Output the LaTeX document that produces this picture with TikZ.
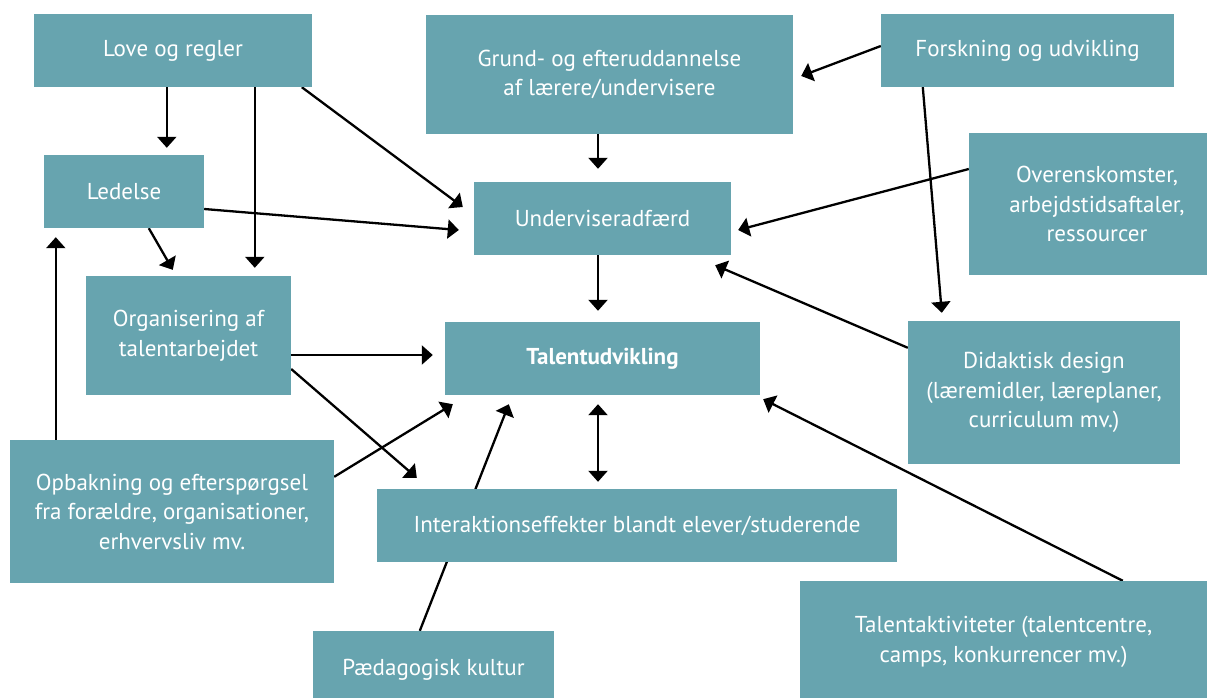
\documentclass[tikz,border=0pt]{standalone}
\usepackage{fontspec}
\setmainfont{PT Sans}
\usetikzlibrary{arrows.meta,calc,backgrounds}
\definecolor{boxfill}{RGB}{103,164,175}
\tikzset{
  box/.style={fill=boxfill, draw=none, text=white, align=center, inner sep=0pt,
    font=\fontsize{23}{29.5}\selectfont},
  arr/.style={line width=2.3pt, -{Triangle[width=19pt,length=11pt]}},
  darr/.style={line width=2.3pt, {Triangle[width=19pt,length=11pt]}-{Triangle[width=19pt,length=11pt]}},
  plain/.style={line width=2.3pt}
}
\begin{document}
\begin{tikzpicture}[x=1pt,y=-1pt]
\useasboundingbox (0,0) rectangle (1207,698);
\clip (0,0) rectangle (1207,698);
\node[box, minimum width=278pt, minimum height=73pt] (love) at (173,50.5) {Love og regler};
\node[box, minimum width=160pt, minimum height=73pt] (ledelse) at (124,191.5) {Ledelse};
\node[box, minimum width=205pt, minimum height=119pt] (org) at (188.5,335.5) {Organisering af\\talentarbejdet};
\node[box, minimum width=324pt, minimum height=143pt] (opb) at (172,511.5) {Opbakning og efterspørgsel\\fra forældre, organisationer,\\erhvervsliv mv.};
\node[box, minimum width=241pt, minimum height=78pt] (paed) at (433.5,670) {Pædagogisk kultur};
\node[box, minimum width=367pt, minimum height=119pt] (grund) at (609.5,74.5) {Grund- og efteruddannelse\\af lærere/undervisere};
\node[box, minimum width=257pt, minimum height=73pt] (underv) at (602.5,218.5) {Underviseradfærd};
\node[box, minimum width=315pt, minimum height=73pt] (talent) at (602.5,358.5) {\bfseries Talentudvikling};
\node[box, minimum width=520pt, minimum height=73pt] (inter) at (637,525.5) {Interaktionseffekter blandt elever/studerende};
\node[box, minimum width=293pt, minimum height=73pt] (forsk) at (1027.5,50.5) {Forskning og udvikling};
\node[box, minimum width=256pt, minimum height=142pt] (overens) at (1097,204) {Overenskomster,\\arbejdstidsaftaler,\\ressourcer};
\node[box, minimum width=272pt, minimum height=143pt] (didak) at (1044,392.5) {Didaktisk design\\(læremidler, læreplaner,\\curriculum mv.)};
\node[box, minimum width=407pt, minimum height=122pt] (aktiv) at (1003.5,642) {Talentaktiviteter (talentcentre,\\camps, konkurrencer mv.)};
\begin{pgfonlayer}{background}
\draw[arr] ($(love.south west)+(133,0)$) -- ($(ledelse.north west)+(123,-7)$);
\draw[arr] ($(love.south west)+(221,0)$) -- ($(org.north west)+(169,-8)$);
\draw[arr] ($(love.south west)+(268,0)$) -- ($(underv.west)+(-11,-11.5)$);
\draw[arr] ($(ledelse.east)+(0,17.5)$) -- ($(underv.west)+(-15,11.5)$);
\draw[arr] ($(ledelse.south west)+(105,0)$) -- ($(org.north west)+(87,-6)$);
\draw[arr] ($(opb.north west)+(46,0)$) -- ($(ledelse.south west)+(12,9)$);
\draw[arr] ($(grund.south)+(-11.5,0)$) -- ($(underv.north)+(-4.5,-13)$);
\draw[arr] ($(forsk.west)+(0,-4.5)$) -- ($(grund.east)+(8,1.5)$);
\draw[arr] ($(forsk.south west)+(42,0)$) -- ($(didak.north west)+(34,-8)$);
\draw[arr] ($(overens.west)+(0,-35)$) -- ($(underv.east)+(7,11.5)$);
\draw[arr] ($(didak.north west)+(0,27)$) -- ($(underv.south east)+(-16,10)$);
\draw[arr] ($(underv.south)+(-4.5,0)$) -- ($(talent.north)+(-4.5,-11)$);
\draw[arr] ($(org.east)+(0,19.5)$) -- ($(talent.west)+(-12,-3.5)$);
\draw[arr] ($(org.east)+(0,33.5)$) -- ($(inter.north west)+(40,-11)$);
\draw[arr] ($(opb.north east)+(0,37)$) -- ($(talent.south west)+(8,9)$);
\draw[arr] ($(paed.north west)+(107,0)$) -- ($(talent.south west)+(64,9)$);
\draw[darr] ($(talent.south)+(-4.5,9)$) -- ($(inter.north)+(-39,-7)$);
\draw[arr] ($(aktiv.north west)+(323,0)$) -- ($(talent.south east)+(3,4)$);
\end{pgfonlayer}
\end{tikzpicture}
\end{document}
